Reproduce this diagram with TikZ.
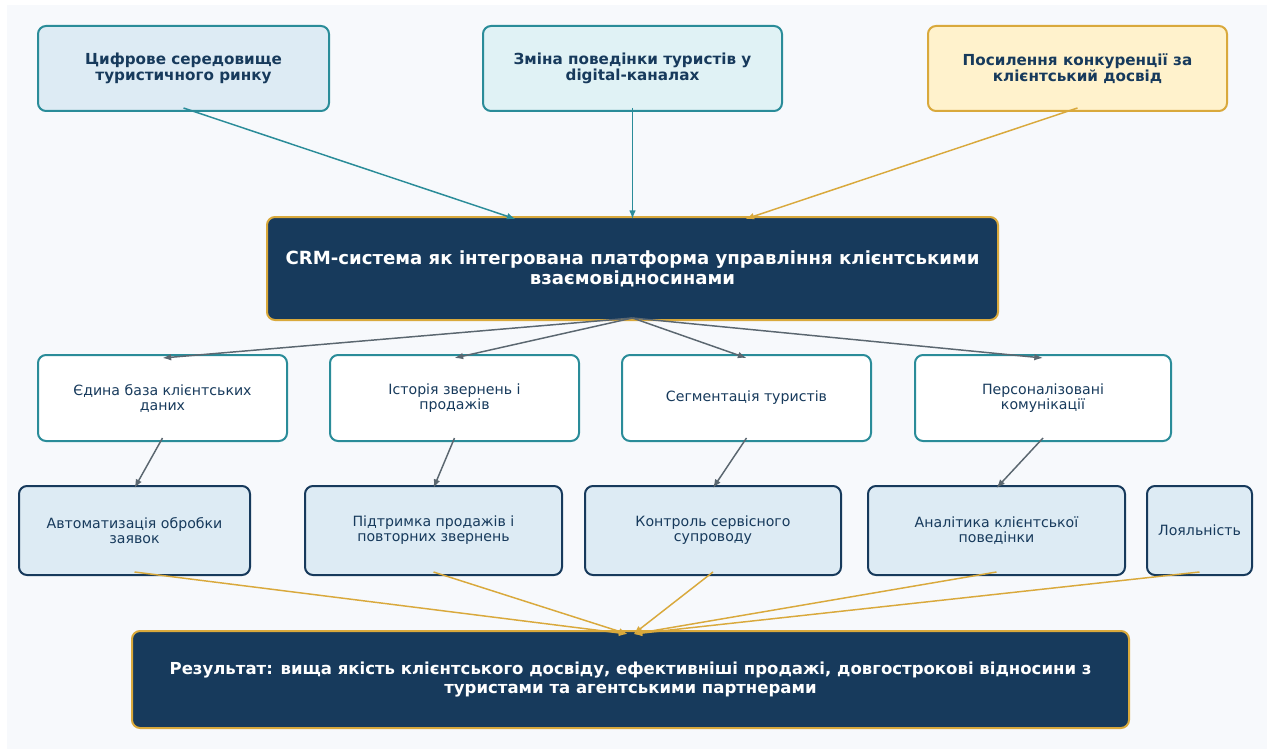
\documentclass[tikz,border=0pt]{standalone}
\usepackage{fontspec}
\setmainfont{DejaVu Sans}
\usetikzlibrary{arrows.meta,calc}

\definecolor{pagebg}{HTML}{F7F9FC}
\definecolor{navy}{HTML}{173A5C}
\definecolor{tealc}{HTML}{2A8C99}
\definecolor{goldc}{HTML}{D9A93C}
\definecolor{grayc}{HTML}{5B6770}
\definecolor{paleblue}{HTML}{DDEBF4}
\definecolor{paleteal}{HTML}{E0F2F5}
\definecolor{palegold}{HTML}{FFF2CC}

\tikzset{
  box/.style={rectangle, rounded corners=6pt, line width=1.5pt, inner sep=0pt,
    outer sep=0pt, align=center, text=navy},
  headbox/.style={box, minimum height=63.75pt,
    font=\bfseries\fontsize{11.4}{12}\selectfont},
  corebox/.style={box, fill=navy, draw=goldc, text=white,
    font=\bfseries\fontsize{13.6}{15}\selectfont},
  toolbox/.style={box, fill=white, draw=tealc, minimum height=64.5pt,
    font=\fontsize{10.6}{11.25}\selectfont},
  effectbox/.style={box, fill=paleblue, draw=navy, minimum height=66.75pt,
    font=\fontsize{10.6}{11.25}\selectfont},
  link/.style={line width=1.1pt, -{Latex[length=6.5pt,width=5pt]}},
  tlink/.style={link, draw=tealc, fill=tealc},
  glink/.style={link, draw=goldc, fill=goldc},
  slink/.style={link, draw=grayc, fill=grayc},
}

\begin{document}
\begin{tikzpicture}[x=0.75pt, y=-0.75pt]
\useasboundingbox (0,0) rectangle (1272,749);
\fill[white] (0,0) rectangle (1272,749);
\fill[pagebg] (7,5) rectangle (1267,749);

% drivers
\node[headbox, fill=paleblue, draw=tealc, minimum width=218.25pt] (t1) at (183.5,68.5)
  {Цифрове середовище\\туристичного ринку};
\node[headbox, fill=paleteal, draw=tealc, minimum width=224.25pt] (t2) at (632.5,68.5)
  {Зміна поведінки туристів у\\digital-каналах};
\node[headbox, fill=palegold, draw=goldc, minimum width=224.25pt] (t3) at (1077.5,68.5)
  {Посилення конкуренції за\\клієнтський досвід};

% platform
\node[corebox, minimum width=548.25pt, minimum height=77.25pt] (crm) at (632.5,268.5)
  {CRM-система як інтегрована платформа управління клієнтськими\\взаємовідносинами};

% tools
\node[toolbox, minimum width=186.75pt] (m1) at (162.5,398) {Єдина база клієнтських\\даних};
\node[toolbox, minimum width=186.75pt] (m2) at (454.5,398) {Історія звернень і\\продажів};
\node[toolbox, minimum width=186.75pt] (m3) at (746.5,398) {Сегментація туристів};
\node[toolbox, minimum width=192pt] (m4) at (1043,398) {Персоналізовані\\комунікації};

% effects
\node[effectbox, minimum width=173.25pt] (l1) at (134.5,530.5) {Автоматизація обробки\\заявок};
\node[effectbox, minimum width=192.75pt] (l2) at (433.5,530.5) {Підтримка продажів і\\повторних звернень};
\node[effectbox, minimum width=192pt] (l3) at (713,530.5) {Контроль сервісного\\супроводу};
\node[effectbox, minimum width=192.75pt] (l4) at (996.5,530.5) {Аналітика клієнтської\\поведінки};
\node[effectbox, minimum width=78.75pt] (l5) at (1199.5,530.5) {Лояльність};

% outcome
\node[corebox, minimum width=747.75pt, minimum height=72.75pt,
  font=\bfseries\fontsize{12.4}{14.25}\selectfont] (res) at (630.5,679.5)
  {Результат: вища якість клієнтського досвіду, ефективніші продажі, довгострокові відносини з\\туристами та агентськими партнерами};

% drivers -> platform
\draw[tlink] ($(t1.south)+(0,-3)$) -- ($(crm.north)+(-117,2)$);
\draw[tlink] ($(t2.south)+(0,-3)$) -- ($(crm.north)+(0,2)$);
\draw[glink] ($(t3.south)+(0,-3)$) -- ($(crm.north)+(113,2)$);

% platform -> tools
\foreach \m in {m1,m2,m3,m4}
  \draw[slink] ($(crm.south)+(0,-2)$) -- ($(\m.north)+(0,3)$);

% tools -> effects
\foreach \m/\l in {m1/l1,m2/l2,m3/l3,m4/l4}
  \draw[slink] ($(\m.south)+(0,-3)$) -- ($(\l.north)+(0,2)$);

% effects -> outcome
\foreach \l in {l1,l2}
  \draw[glink] ($(\l.south)+(0,-3)$) -- ($(res.north)+(-3,3)$);
\foreach \l in {l3,l4,l5}
  \draw[glink] ($(\l.south)+(0,-3)$) -- ($(res.north)+(3,3)$);
\end{tikzpicture}
\end{document}
